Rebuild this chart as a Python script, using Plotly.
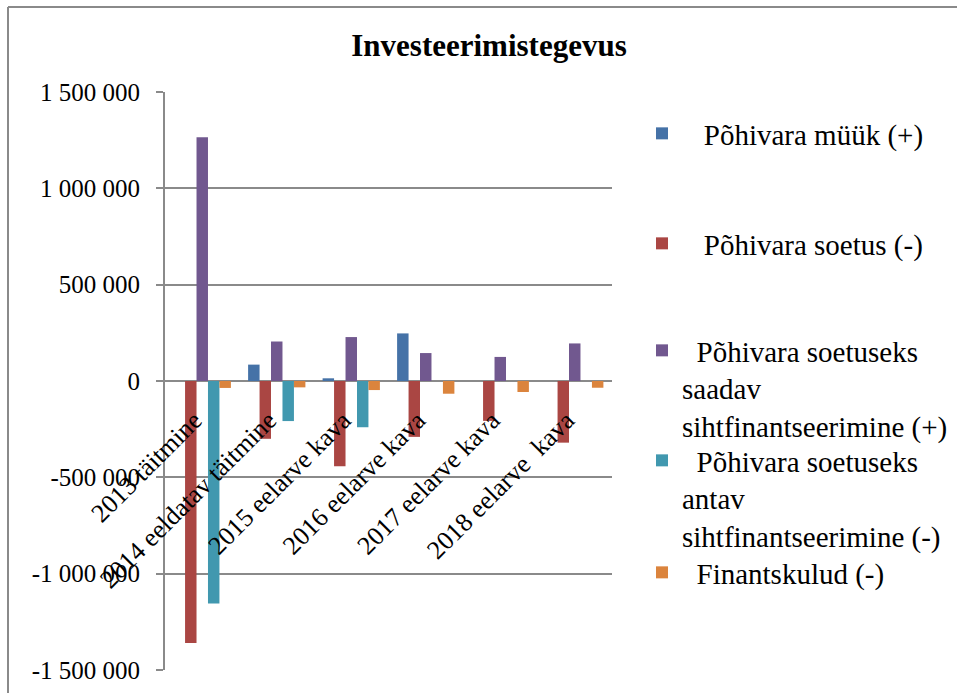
import plotly.graph_objects as go

categories = ["2013 täitmine", "2014 eeldatav täitmine", "2015 eelarve kava",
              "2016 eelarve kava", "2017 eelarve kava", "2018 eelarve  kava"]

series_names = [
    "Põhivara müük (+)",
    "Põhivara soetus (-)",
    "Põhivara soetuseks<br>saadav<br>sihtfinantseerimine (+)",
    "Põhivara soetuseks<br>antav<br>sihtfinantseerimine (-)",
    "Finantskulud (-)",
]
leading = [3, 3, 2, 2, 2]

pohivara_myyk = [0, 85000, 14000, 247000, 0, 0]
pohivara_soetus = [-1360000, -300000, -442000, -290000, -207000, -320000]
saadav_sihtfin = [1265000, 205000, 228000, 145000, 125000, 195000]
antav_sihtfin = [-1155000, -208000, -240000, 0, 0, 0]
finantskulud = [-36000, -33000, -47000, -66000, -57000, -35000]

series_values = [pohivara_myyk, pohivara_soetus, saadav_sihtfin, antav_sihtfin, finantskulud]
colors = ["#4572A7", "#AA4643", "#71588F", "#4198AF", "#DB843D"]

y_tickvals = [-1500000, -1000000, -500000, 0, 500000, 1000000, 1500000]
y_ticktext = ["-1 500 000", "-1 000 000", "-500 000", "0", "500 000", "1 000 000", "1 500 000"]

W, H = 957, 693
L, R, T, B = 165, 612, 92, 670
ymin, ymax = y_tickvals[0], y_tickvals[-1]
FONT = "Liberation Serif"
GRID = "#8a8a8a"

fig = go.Figure()
legend_ids = ["legend", "legend2", "legend3", "legend4", "legend5"]
legend_centers = [129, 239, 346, 456, 568]
for name, vals, col, lid, nlead in zip(series_names, series_values, colors, legend_ids, leading):
    fig.add_trace(go.Bar(
        x=categories, y=vals, name="\u00a0" * nlead + name,
        marker=dict(color=col, line=dict(width=0)),
        legend=lid,
    ))

legend_layout = {}
for lid, cy in zip(legend_ids, legend_centers):
    legend_layout[lid] = dict(
        xref="container", yref="container",
        x=642 / W, y=1 - (cy - 21) / H, xanchor="left", yanchor="top",
        font=dict(family=FONT, size=29, color="black"),
        bgcolor="rgba(0,0,0,0)", borderwidth=0, valign="top",
        itemclick=False,
    )

zero_pos = (0 - ymin) / (ymax - ymin)
fx0 = (8 - L) / (R - L)
fx1 = (W + 60 - L) / (R - L)
fy_top = (B - 7) / (B - T)
fy_bot = (B - (H + 60)) / (B - T)

fig.update_layout(
    width=W, height=H,
    margin=dict(l=L, r=W - R, t=T, b=H - B),
    paper_bgcolor="white", plot_bgcolor="white",
    font=dict(family=FONT, size=26, color="black"),
    title=dict(text="<b>Investeerimistegevus</b>", xref="container", yref="container",
               x=489 / W, y=1 - 45 / H, xanchor="center", yanchor="middle",
               font=dict(family=FONT, size=31, color="black")),
    barmode="group", bargap=1.5 / 6.5, bargroupgap=0,
    showlegend=True,
    xaxis=dict(type="category", anchor="free", position=zero_pos,
               showgrid=False, showline=False, ticks="", tickangle=-45,
               ticklabelstandoff=18, ticklabelshift=-8, automargin=False,
               tickfont=dict(family=FONT, size=26, color="black")),
    yaxis=dict(range=[ymin, ymax], tickvals=y_tickvals, ticktext=y_ticktext,
               showgrid=True, gridcolor=GRID, gridwidth=2,
               zeroline=True, zerolinecolor=GRID, zerolinewidth=2,
               showline=True, linecolor=GRID, linewidth=2,
               ticks="outside", ticklen=7, tickwidth=2, tickcolor=GRID,
               ticklabelstandoff=11, automargin=False,
               tickfont=dict(family=FONT, size=25, color="black")),
    shapes=[
        dict(type="line", xref="paper", yref="paper", x0=fx0, x1=fx1, y0=fy_top, y1=fy_top,
             line=dict(color=GRID, width=2), layer="below"),
        dict(type="line", xref="paper", yref="paper", x0=fx0, x1=fx0, y0=fy_top, y1=fy_bot,
             line=dict(color=GRID, width=2), layer="below"),
    ],
    **legend_layout,
)

fig.write_html("out.html", config={"displayModeBar": False},
               post_script="document.body.style.margin='0';document.body.style.overflow='hidden';")
